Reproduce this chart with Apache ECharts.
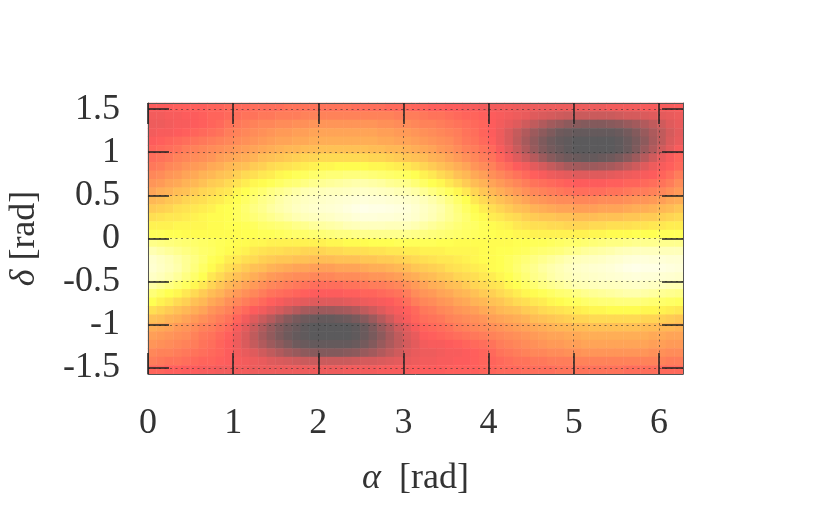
<!DOCTYPE html>
<html>
<head>
<meta charset="utf-8">
<style>
html, body { margin: 0; padding: 0; background: #fff; }
#chart { width: 831px; height: 514px; }
</style>
<script src="https://cdn.jsdelivr.net/npm/echarts@6/dist/echarts.min.js"></script>
</head>
<body>
<div id="chart"></div>
<script>
var alphaTicks = [0, 1, 2, 3, 4, 5, 6];
var deltaTicks = [-1.5, -1, -0.5, 0, 0.5, 1, 1.5];

// cell centres, 0.1 rad wide in alpha, pi/32 high in delta (top row first)
var alphaCells = ['0.05','0.15','0.25','0.35','0.45','0.55','0.65','0.75','0.85','0.95','1.05','1.15','1.25','1.35','1.45','1.55','1.65','1.75','1.85','1.95','2.05','2.15','2.25','2.35','2.45','2.55','2.65','2.75','2.85','2.95','3.05','3.15','3.25','3.35','3.45','3.55','3.65','3.75','3.85','3.95','4.05','4.15','4.25','4.35','4.45','4.55','4.65','4.75','4.85','4.95','5.05','5.15','5.25','5.35','5.45','5.55','5.65','5.75','5.85','5.95','6.05','6.15','6.25'];
var deltaCells = ['1.52','1.42','1.32','1.23','1.13','1.03','0.93','0.83','0.74','0.64','0.54','0.44','0.34','0.25','0.15','0.05','-0.05','-0.15','-0.25','-0.34','-0.44','-0.54','-0.64','-0.74','-0.83','-0.93','-1.03','-1.13','-1.23','-1.32','-1.42','-1.52'];

// 0 = dark grey, 100 = white
var cellRows = [
	[33,33,33,34,34,34,34,35,35,36,36,36,37,37,37,37,38,38,38,38,38,38,38,38,37,37,37,37,36,36,36,35,35,34,34,33,33,32,32,31,31,31,31,30,30,30,30,30,30,30,30,30,30,30,31,31,31,31,32,32,32,32,33],
	[31,31,32,32,33,33,34,35,35,36,37,38,38,39,39,40,40,40,41,41,41,41,41,41,41,41,41,41,41,40,40,40,39,38,38,37,36,35,35,34,33,32,31,30,29,27,26,25,24,23,23,23,23,23,23,24,25,25,26,27,28,29,30],
	[30,30,31,32,32,33,34,35,36,38,39,40,41,42,42,43,43,44,44,45,45,45,45,45,45,45,45,44,44,43,43,42,41,41,40,39,38,37,36,35,33,31,29,27,24,21,18,15,13,11,10,9,9,9,10,11,13,15,18,21,24,27,29],
	[31,32,32,33,34,35,36,37,38,40,41,42,43,44,45,46,46,47,47,48,48,48,48,48,48,48,48,47,47,46,46,45,44,43,42,41,40,38,37,35,33,30,26,22,18,14,11,8,5,4,3,3,3,3,3,4,6,9,13,17,21,25,28],
	[33,34,35,36,37,38,39,40,41,42,43,44,45,46,47,48,48,49,49,50,50,50,50,50,50,50,50,49,49,48,48,47,46,45,44,43,41,39,38,36,34,30,26,21,16,12,8,5,3,2,1,1,1,1,1,2,4,7,11,16,21,26,29],
	[35,36,37,38,40,41,42,43,44,45,46,47,48,49,50,51,52,52,53,53,54,54,54,54,54,54,53,53,52,52,51,50,49,48,46,45,43,41,40,38,36,32,28,23,18,13,9,6,4,2,1,1,1,1,1,2,4,8,13,18,24,28,32],
	[37,38,39,41,42,43,44,45,47,48,49,50,51,53,54,55,56,57,58,58,59,59,59,59,59,59,58,58,57,56,55,54,53,51,50,48,46,44,42,40,38,35,31,27,23,19,14,10,7,5,4,3,3,4,5,7,10,14,19,24,29,32,35],
	[39,40,42,43,45,46,47,49,50,52,53,54,56,57,59,60,61,62,63,64,65,65,66,66,66,66,65,65,64,63,62,60,58,56,54,52,50,48,45,43,41,38,36,33,31,28,25,22,19,16,15,14,14,15,16,18,21,24,27,30,32,34,36],
	[42,43,45,46,48,49,51,52,54,55,57,59,60,62,63,65,66,68,69,71,72,73,73,74,74,74,73,72,71,70,69,67,64,62,59,57,54,52,49,47,44,42,40,38,36,34,32,30,29,28,27,27,27,27,28,29,30,31,32,33,35,37,40],
	[45,46,48,49,51,52,54,56,57,59,61,63,65,66,68,70,72,73,75,77,78,79,80,81,82,82,81,80,78,77,76,73,70,67,65,62,59,56,53,51,48,46,44,42,40,38,37,36,35,34,33,33,33,33,34,34,35,35,36,37,38,40,43],
	[48,50,51,53,54,56,58,59,61,62,65,67,70,72,75,77,79,81,83,84,85,86,86,87,88,89,88,87,86,84,83,81,78,75,72,69,65,62,58,55,52,50,48,46,44,42,41,40,39,38,37,37,37,37,38,38,39,40,40,41,42,44,46],
	[52,53,55,56,58,59,60,62,63,65,67,70,73,76,78,81,83,85,87,88,89,90,91,92,93,94,93,93,92,91,90,88,85,82,79,75,71,67,62,59,56,54,52,50,48,46,45,44,43,43,42,42,42,43,43,43,44,45,45,46,47,49,50],
	[56,57,58,60,61,62,63,64,66,67,69,72,75,77,80,82,84,87,89,90,91,92,93,95,97,98,97,97,96,95,94,91,88,85,82,78,74,70,66,63,60,58,56,54,53,51,50,49,48,48,47,47,47,48,48,48,49,50,50,51,52,53,55],
	[60,61,62,62,63,64,65,66,66,67,69,71,73,75,77,79,81,83,85,86,87,88,90,91,93,94,94,93,93,92,92,90,87,84,81,78,75,72,68,66,63,62,60,59,57,56,55,55,54,54,53,53,53,54,54,54,55,55,56,56,57,58,59],
	[64,64,64,65,65,65,65,66,66,67,67,68,69,71,72,73,74,76,77,79,80,81,82,84,85,86,86,86,85,85,85,83,81,79,77,75,73,71,70,68,66,65,64,62,61,60,60,59,59,58,58,58,59,59,60,60,60,61,61,62,62,63,63],
	[68,68,67,67,66,66,66,66,66,66,66,67,67,68,68,69,70,71,71,72,73,74,75,75,76,77,77,77,77,77,77,76,75,74,73,72,71,70,69,68,67,66,66,65,65,64,64,64,64,64,64,64,65,65,66,66,66,67,67,67,68,68,68],
	[76,75,74,73,72,71,70,69,68,67,66,66,65,65,64,64,64,64,64,64,64,65,65,66,66,66,67,67,67,68,68,68,68,68,67,67,66,66,66,66,66,66,66,67,67,68,68,69,70,71,71,72,73,74,75,75,76,77,77,77,77,77,77],
	[83,81,79,77,75,73,71,70,68,66,65,64,62,61,60,60,59,59,58,58,58,59,59,60,60,60,61,61,62,62,63,63,64,64,64,65,65,65,65,66,66,67,67,68,69,71,72,73,74,76,77,79,80,81,82,84,85,86,86,86,85,85,85],
	[90,87,84,81,78,75,72,68,66,63,62,60,59,57,56,55,55,54,54,53,53,53,54,54,54,55,55,56,56,57,58,59,60,61,62,62,63,64,65,66,66,67,69,71,73,75,77,79,81,83,85,86,87,88,90,91,93,94,94,93,93,92,92],
	[91,88,85,82,78,74,70,66,63,60,58,56,54,53,51,50,49,48,48,47,47,47,48,48,48,49,50,50,51,52,53,55,56,57,58,60,61,62,63,64,66,67,69,72,75,77,80,82,84,87,89,90,91,92,93,95,97,98,97,97,96,95,94],
	[88,85,82,79,75,71,67,62,59,56,54,52,50,48,46,45,44,43,43,42,42,42,43,43,43,44,45,45,46,47,49,50,52,53,55,56,58,59,60,62,63,65,67,70,73,76,78,81,83,85,87,88,89,90,91,92,93,94,93,93,92,91,90],
	[81,78,75,72,69,65,62,58,55,52,50,48,46,44,42,41,40,39,38,37,37,37,37,38,38,39,40,40,41,42,44,46,48,50,51,53,54,56,58,59,61,62,65,67,70,72,75,77,79,81,83,84,85,86,86,87,88,89,88,87,86,84,83],
	[73,70,67,65,62,59,56,53,51,48,46,44,42,40,38,37,36,35,34,33,33,33,33,34,34,35,35,36,37,38,40,43,45,46,48,49,51,52,54,56,57,59,61,63,65,66,68,70,72,73,75,77,78,79,80,81,82,82,81,80,78,77,76],
	[67,64,62,59,57,54,52,49,47,44,42,40,38,36,34,32,30,29,28,27,27,27,27,28,29,30,31,32,33,35,37,40,42,43,45,46,48,49,51,52,54,55,57,59,60,62,63,65,66,68,69,71,72,73,73,74,74,74,73,72,71,70,69],
	[60,58,56,54,52,50,48,45,43,41,38,36,33,31,28,25,22,19,16,15,14,14,15,16,18,21,24,27,30,32,34,36,39,40,42,43,45,46,47,49,50,52,53,54,56,57,59,60,61,62,63,64,65,65,66,66,66,66,65,65,64,63,62],
	[54,53,51,50,48,46,44,42,40,38,35,31,27,23,19,14,10,7,5,4,3,3,4,5,7,10,14,19,24,29,32,35,37,38,39,41,42,43,44,45,47,48,49,50,51,53,54,55,56,57,58,58,59,59,59,59,59,59,58,58,57,56,55],
	[50,49,48,46,45,43,41,40,38,36,32,28,23,18,13,9,6,4,2,1,1,1,1,1,2,4,8,13,18,24,28,32,35,36,37,38,40,41,42,43,44,45,46,47,48,49,50,51,52,52,53,53,54,54,54,54,54,54,53,53,52,52,51],
	[47,46,45,44,43,41,39,38,36,34,30,26,21,16,12,8,5,3,2,1,1,1,1,1,2,4,7,11,16,21,26,29,33,34,35,36,37,38,39,40,41,42,43,44,45,46,47,48,48,49,49,50,50,50,50,50,50,50,50,49,49,48,48],
	[45,44,43,42,41,40,38,37,35,33,30,26,22,18,14,11,8,5,4,3,3,3,3,3,4,6,9,13,17,21,25,28,31,32,32,33,34,35,36,37,38,40,41,42,43,44,45,46,46,47,47,48,48,48,48,48,48,48,48,47,47,46,46],
	[42,41,41,40,39,38,37,36,35,33,31,29,27,24,21,18,15,13,11,10,9,9,9,10,11,13,15,18,21,24,27,29,30,30,31,32,32,33,34,35,36,38,39,40,41,42,42,43,43,44,44,45,45,45,45,45,45,45,45,44,44,43,43],
	[40,39,38,38,37,36,35,35,34,33,32,31,30,29,27,26,25,24,23,23,23,23,23,23,24,25,25,26,27,28,29,30,31,31,32,32,33,33,34,35,35,36,37,38,38,39,39,40,40,40,41,41,41,41,41,41,41,41,41,41,41,40,40],
	[35,35,34,34,33,33,32,32,31,31,31,31,30,30,30,30,30,30,30,30,30,30,30,31,31,31,31,32,32,32,32,33,33,33,33,34,34,34,34,35,35,36,36,36,37,37,37,37,38,38,38,38,38,38,38,38,37,37,37,37,36,36,36]
];

var paletteColors = ['#565a5c', '#aa5a5c', '#ff5c5c', '#ffae56', '#ffff50', '#ffffb4', '#fffff0'];

function genSkyOption() {
	var cells = [];
	for (var j = 0; j < cellRows.length; j++) {
		for (var i = 0; i < cellRows[j].length; i++) {
			cells.push([i, j, cellRows[j][i]]);
		}
	}

	var labelStyle = {
		color : '#333',
		fontFamily : 'Liberation Serif',
		fontSize : 36
	};
	var tickStyle = {
		inside : true,
		length : 21,
		lineStyle : {
			color : '#222',
			width : 1.5
		}
	};
	var frameLine = {
		show : true,
		onZero : false,
		lineStyle : {
			color : '#555',
			width : 1
		}
	};
	var gridLine = {
		show : true,
		lineStyle : {
			color : 'rgba(50,50,50,0.6)',
			width : 1,
			type : [ 2, 3.5 ]
		}
	};
	var nameText = {
		color : '#333',
		fontFamily : 'Liberation Serif',
		fontSize : 36,
		rich : {
			i : {
				color : '#333',
				fontFamily : 'Liberation Serif',
				fontStyle : 'italic',
				fontSize : 36
			}
		}
	};

	return {
		animation : false,
		backgroundColor : '#fff',
		grid : {
			left : 148,
			top : 103,
			width : 535,
			height : 271,
			outerBoundsMode : 'none'
		},
		visualMap : {
			type : 'continuous',
			show : false,
			min : 0,
			max : 100,
			dimension : 2,
			seriesIndex : 0,
			inRange : {
				color : paletteColors
			}
		},
		xAxis : [ {
			type : 'category',
			show : false,
			data : alphaCells
		}, {
			type : 'value',
			position : 'bottom',
			z : 5,
			min : 0,
			max : 6.2832,
			name : '{i|α}\u00a0\u00a0[rad]',
			nameLocation : 'middle',
			nameGap : 87,
			nameTextStyle : nameText,
			axisLine : frameLine,
			axisTick : Object.assign({ customValues : alphaTicks }, tickStyle),
			axisLabel : Object.assign({ customValues : alphaTicks, margin : 32 }, labelStyle),
			splitLine : gridLine
		}, {
			type : 'value',
			position : 'top',
			z : 5,
			min : 0,
			max : 6.2832,
			axisLine : frameLine,
			axisTick : Object.assign({ customValues : alphaTicks }, tickStyle),
			axisLabel : { show : false },
			splitLine : { show : false }
		} ],
		yAxis : [ {
			type : 'category',
			show : false,
			inverse : true,
			data : deltaCells
		}, {
			type : 'value',
			position : 'left',
			z : 5,
			min : -1.5708,
			max : 1.5708,
			name : '{i|δ}\u00a0[rad]',
			nameLocation : 'middle',
			nameRotate : 90,
			nameGap : 105,
			nameTextStyle : nameText,
			axisLine : frameLine,
			axisTick : Object.assign({ customValues : deltaTicks }, tickStyle),
			axisLabel : Object.assign({ customValues : deltaTicks, margin : 28 }, labelStyle),
			splitLine : gridLine
		}, {
			type : 'value',
			position : 'right',
			z : 5,
			min : -1.5708,
			max : 1.5708,
			axisLine : frameLine,
			axisTick : Object.assign({ customValues : deltaTicks }, tickStyle),
			axisLabel : { show : false },
			splitLine : { show : false }
		} ],
		series : [ {
			type : 'heatmap',
			xAxisIndex : 0,
			yAxisIndex : 0,
			data : cells,
			progressive : 0,
			itemStyle : {
				borderWidth : 0
			}
		} ]
	};
}

var chart = echarts.init(document.getElementById('chart'));
chart.setOption(genSkyOption(), true);
</script>
</body>
</html>
